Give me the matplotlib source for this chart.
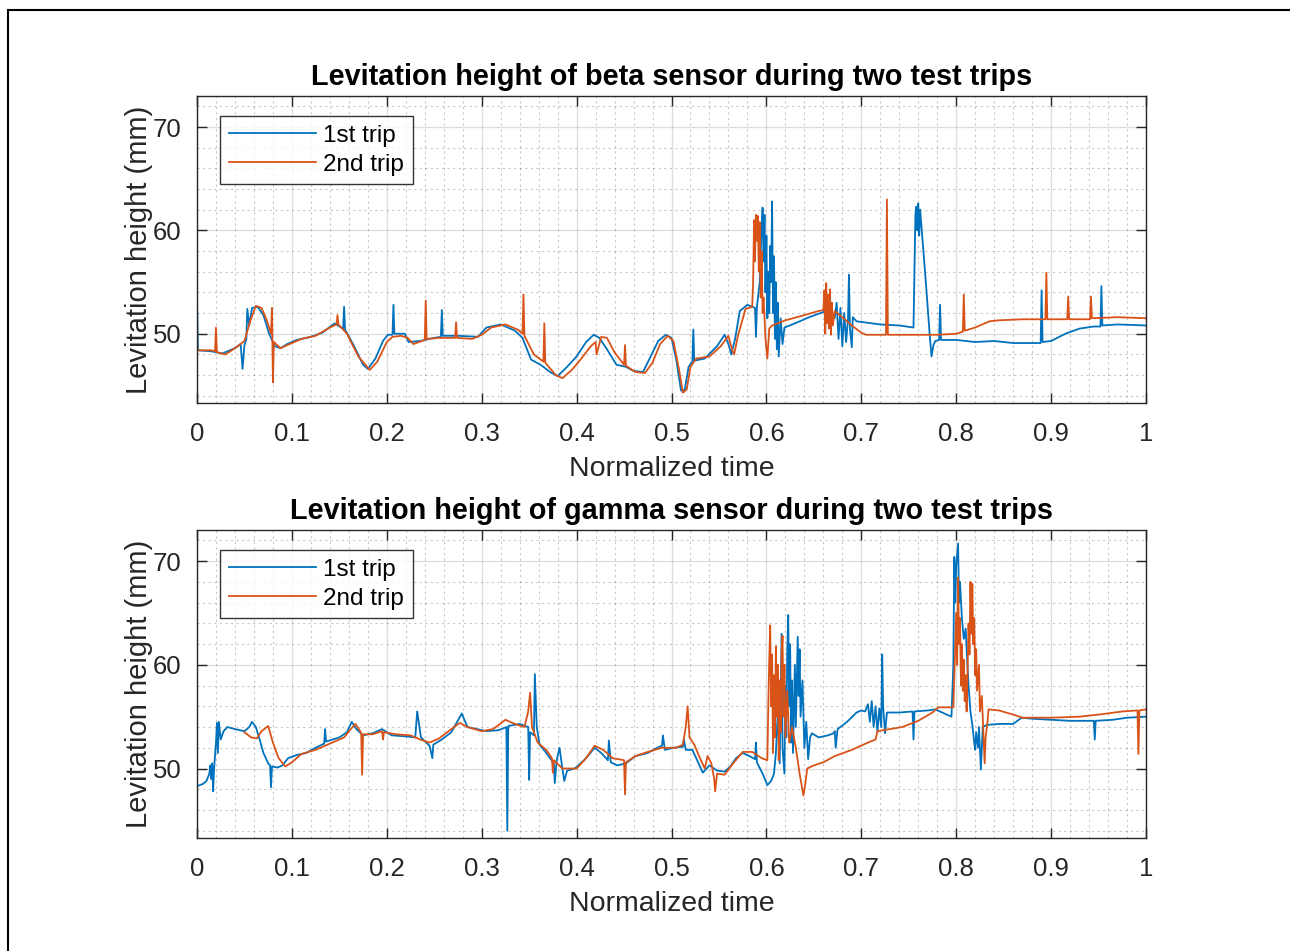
import numpy as np
import matplotlib
matplotlib.use('Agg')
import matplotlib.pyplot as plt
from matplotlib.ticker import MultipleLocator
import matplotlib.patches as mpatches

plt.rcParams['font.family'] = ['Liberation Sans', 'DejaVu Sans']

# ---- beta sensor, 1st trip ----
beta_trip1 = [
    (0.000, 53.2), (0.001, 48.4), (0.015, 48.3), (0.027, 48.1), (0.040, 48.6), (0.046, 49.0),
    (0.048, 46.6), (0.050, 48.9), (0.052, 49.5), (0.053, 52.4), (0.055, 50.8), (0.058, 52.5),
    (0.064, 52.6), (0.070, 51.8), (0.076, 50.0), (0.082, 48.8), (0.088, 48.6), (0.095, 49.0),
    (0.105, 49.4), (0.120, 49.7), (0.132, 50.1), (0.145, 51.0), (0.154, 50.5), (0.155, 52.6),
    (0.156, 50.4), (0.165, 48.9), (0.175, 47.0), (0.180, 46.6), (0.188, 47.6), (0.196, 49.3),
    (0.201, 49.9), (0.206, 49.9), (0.207, 52.8), (0.208, 50.0), (0.219, 50.0), (0.223, 49.2),
    (0.235, 49.3), (0.250, 49.6), (0.257, 49.7), (0.258, 52.3), (0.259, 49.8), (0.275, 49.8),
    (0.296, 49.7), (0.305, 50.6), (0.320, 50.9), (0.335, 50.3), (0.343, 49.6), (0.352, 47.5),
    (0.362, 47.0), (0.372, 46.3), (0.380, 45.9), (0.390, 46.8), (0.400, 47.8), (0.410, 49.2),
    (0.418, 49.9), (0.424, 49.6), (0.432, 48.5), (0.442, 47.0), (0.452, 46.8), (0.460, 46.4),
    (0.470, 46.3), (0.478, 47.8), (0.486, 49.3), (0.494, 49.9), (0.500, 49.6), (0.505, 47.5),
    (0.510, 44.5), (0.514, 44.6), (0.518, 46.8), (0.522, 47.3), (0.523, 50.4), (0.524, 47.4),
    (0.535, 47.6), (0.548, 48.8), (0.556, 49.9), (0.560, 49.0), (0.563, 48.0), (0.567, 49.5),
    (0.572, 52.2), (0.580, 52.8), (0.588, 52.5), (0.589, 49.7), (0.590, 52.6), (0.593, 55.0),
    (0.595, 60.5), (0.596, 62.2), (0.597, 57.0), (0.598, 61.5), (0.599, 54.0), (0.600, 59.5),
    (0.601, 51.5), (0.602, 56.0), (0.603, 52.0), (0.604, 58.5), (0.605, 55.0), (0.606, 62.8),
    (0.607, 52.0), (0.608, 57.5), (0.609, 49.5), (0.610, 55.0), (0.611, 48.5), (0.612, 53.0),
    (0.613, 47.8), (0.615, 51.5), (0.617, 49.0), (0.619, 50.6), (0.630, 51.0), (0.645, 51.6),
    (0.660, 52.1), (0.668, 52.3), (0.672, 51.5), (0.674, 53.0), (0.676, 49.5), (0.678, 52.5),
    (0.680, 48.8), (0.682, 52.0), (0.684, 49.2), (0.686, 51.5), (0.687, 55.7), (0.688, 50.5),
    (0.690, 48.7), (0.691, 51.6), (0.695, 51.2), (0.720, 50.9), (0.740, 50.8), (0.755, 50.6),
    (0.757, 61.5), (0.758, 62.3), (0.759, 60.0), (0.760, 62.6), (0.761, 59.5), (0.762, 62.0),
    (0.768, 55.0), (0.772, 50.0), (0.774, 47.8), (0.776, 48.9), (0.778, 49.3), (0.782, 49.4),
    (0.783, 52.8), (0.784, 49.4), (0.800, 49.4), (0.820, 49.2), (0.840, 49.3), (0.860, 49.1),
    (0.880, 49.1), (0.889, 49.1), (0.890, 54.2), (0.891, 49.2), (0.900, 49.3), (0.915, 50.0),
    (0.930, 50.5), (0.945, 50.7), (0.952, 50.7), (0.953, 54.6), (0.954, 50.8), (0.970, 50.9),
    (1.000, 50.8),
]

# ---- beta sensor, 2nd trip ----
beta_trip2 = [
    (0.000, 48.4), (0.015, 48.4), (0.019, 48.3), (0.020, 50.6), (0.021, 48.2), (0.030, 48.0),
    (0.040, 48.6), (0.050, 49.3), (0.056, 51.2), (0.062, 52.7), (0.068, 52.5), (0.074, 51.2),
    (0.078, 50.0), (0.079, 52.5), (0.080, 45.3), (0.081, 49.2), (0.088, 48.6), (0.095, 48.9),
    (0.110, 49.5), (0.125, 49.8), (0.140, 50.6), (0.147, 50.9), (0.148, 51.8), (0.149, 50.9),
    (0.158, 50.0), (0.170, 47.8), (0.182, 46.5), (0.190, 47.3), (0.200, 49.2), (0.206, 49.7),
    (0.215, 49.8), (0.222, 49.6), (0.228, 49.0), (0.240, 49.4), (0.241, 53.2), (0.242, 49.5),
    (0.255, 49.6), (0.272, 49.6), (0.273, 51.1), (0.274, 49.6), (0.290, 49.5), (0.300, 49.9),
    (0.310, 50.6), (0.325, 50.9), (0.338, 50.4), (0.343, 50.0), (0.344, 53.8), (0.345, 49.8),
    (0.355, 48.0), (0.365, 47.3), (0.366, 51.0), (0.367, 47.2), (0.378, 46.0), (0.385, 45.7),
    (0.395, 46.5), (0.405, 47.6), (0.415, 48.8), (0.420, 49.2), (0.421, 48.0), (0.426, 49.7),
    (0.432, 49.6), (0.440, 48.2), (0.450, 47.0), (0.451, 48.9), (0.452, 46.9), (0.462, 46.3),
    (0.472, 46.2), (0.480, 47.2), (0.488, 49.0), (0.496, 49.8), (0.502, 49.3), (0.508, 46.5),
    (0.512, 44.3), (0.516, 44.6), (0.520, 46.8), (0.526, 47.6), (0.540, 47.8), (0.552, 48.8),
    (0.560, 49.8), (0.564, 48.4), (0.566, 48.0), (0.570, 49.8), (0.578, 52.4), (0.585, 52.6),
    (0.586, 55.0), (0.587, 61.0), (0.588, 57.0), (0.589, 61.5), (0.590, 59.0), (0.591, 61.4),
    (0.592, 56.0), (0.593, 60.8), (0.594, 53.5), (0.595, 58.0), (0.596, 52.0), (0.597, 53.5),
    (0.599, 49.5), (0.601, 47.6), (0.603, 50.5), (0.606, 50.8), (0.620, 51.3), (0.640, 51.8),
    (0.655, 52.2), (0.660, 52.3), (0.661, 54.2), (0.662, 50.0), (0.663, 54.9), (0.664, 51.0),
    (0.665, 53.8), (0.666, 50.5), (0.667, 54.3), (0.668, 49.9), (0.669, 53.0), (0.670, 50.8),
    (0.672, 52.2), (0.680, 51.6), (0.690, 50.8), (0.700, 50.1), (0.705, 49.9), (0.726, 49.9),
    (0.727, 63.0), (0.728, 49.9), (0.760, 49.9), (0.780, 49.9), (0.800, 50.0), (0.807, 50.2),
    (0.808, 53.8), (0.809, 50.3), (0.820, 50.6), (0.835, 51.2), (0.845, 51.3), (0.870, 51.4),
    (0.894, 51.4), (0.895, 55.9), (0.896, 51.4), (0.917, 51.4), (0.918, 53.6), (0.919, 51.4),
    (0.941, 51.4), (0.942, 53.6), (0.943, 51.5), (0.970, 51.6), (1.000, 51.5),
]

# ---- gamma sensor, 1st trip ----
gamma_trip1 = [
    (0.000, 48.3), (0.006, 48.5), (0.010, 48.8), (0.013, 49.5), (0.014, 50.3), (0.015, 49.0),
    (0.016, 50.5), (0.017, 47.8), (0.018, 50.0), (0.020, 52.5), (0.021, 54.4), (0.022, 51.5),
    (0.023, 54.5), (0.025, 52.8), (0.028, 53.6), (0.032, 54.0), (0.040, 53.8), (0.050, 53.6),
    (0.055, 54.0), (0.058, 54.5), (0.062, 54.0), (0.066, 52.8), (0.070, 51.5), (0.075, 50.5),
    (0.077, 50.3), (0.078, 48.2), (0.079, 50.2), (0.085, 50.1), (0.090, 50.3), (0.096, 51.0),
    (0.105, 51.3), (0.115, 51.5), (0.125, 52.0), (0.134, 52.4), (0.135, 53.8), (0.136, 52.6),
    (0.150, 53.0), (0.158, 53.5), (0.163, 54.5), (0.168, 53.8), (0.175, 53.2), (0.185, 53.4),
    (0.195, 53.8), (0.205, 53.2), (0.220, 53.1), (0.230, 53.0), (0.232, 55.5), (0.236, 53.0),
    (0.245, 52.2), (0.248, 51.0), (0.249, 52.3), (0.258, 52.8), (0.268, 53.5), (0.279, 55.3),
    (0.285, 54.0), (0.295, 53.8), (0.305, 53.6), (0.318, 53.7), (0.326, 54.0), (0.327, 44.0),
    (0.328, 54.1), (0.340, 54.3), (0.349, 54.0), (0.350, 48.9), (0.351, 53.5), (0.355, 53.2),
    (0.356, 59.1), (0.358, 54.0), (0.361, 52.3), (0.368, 51.5), (0.376, 50.5), (0.377, 48.6),
    (0.379, 50.8), (0.382, 52.0), (0.385, 50.0), (0.387, 48.8), (0.390, 49.8), (0.398, 50.0),
    (0.408, 50.8), (0.419, 52.0), (0.426, 51.5), (0.433, 50.8), (0.434, 52.7), (0.436, 50.6),
    (0.443, 50.3), (0.452, 50.5), (0.462, 51.2), (0.475, 51.5), (0.485, 52.0), (0.490, 52.2),
    (0.491, 53.2), (0.493, 51.8), (0.502, 52.0), (0.512, 52.1), (0.513, 52.8), (0.515, 51.8),
    (0.522, 51.8), (0.527, 50.8), (0.533, 49.6), (0.540, 50.3), (0.548, 49.8), (0.556, 49.7),
    (0.562, 50.2), (0.568, 51.0), (0.575, 51.5), (0.582, 51.2), (0.588, 50.9), (0.589, 52.5),
    (0.590, 50.6), (0.596, 49.5), (0.601, 48.4), (0.605, 48.8), (0.608, 49.5), (0.610, 51.5),
    (0.612, 55.5), (0.614, 50.5), (0.616, 63.0), (0.617, 52.0), (0.619, 49.5), (0.620, 58.0),
    (0.621, 53.0), (0.622, 61.5), (0.623, 64.8), (0.624, 56.0), (0.625, 62.0), (0.626, 52.5),
    (0.627, 58.5), (0.628, 51.5), (0.630, 60.0), (0.631, 54.0), (0.633, 62.7), (0.634, 57.0),
    (0.635, 61.5), (0.636, 55.0), (0.638, 58.5), (0.640, 52.0), (0.642, 54.5), (0.644, 50.9),
    (0.646, 53.0), (0.648, 53.4), (0.655, 53.0), (0.665, 53.2), (0.671, 53.4), (0.672, 53.6),
    (0.673, 52.0), (0.675, 53.8), (0.685, 54.5), (0.695, 55.4), (0.700, 55.6), (0.704, 55.5),
    (0.707, 56.2), (0.709, 54.5), (0.711, 56.5), (0.713, 54.0), (0.715, 56.0), (0.717, 53.5),
    (0.719, 55.8), (0.721, 54.0), (0.722, 61.0), (0.723, 56.0), (0.725, 53.4), (0.727, 55.4),
    (0.740, 55.4), (0.754, 55.5), (0.755, 52.8), (0.756, 55.5), (0.770, 55.6), (0.778, 55.7),
    (0.790, 55.2), (0.795, 55.0), (0.797, 60.0), (0.798, 70.4), (0.799, 66.0), (0.800, 69.5),
    (0.802, 71.7), (0.803, 66.0), (0.804, 68.0), (0.806, 64.5), (0.808, 62.5), (0.810, 63.5),
    (0.811, 61.5), (0.813, 58.0), (0.815, 55.5), (0.817, 54.2), (0.819, 52.5), (0.820, 51.8),
    (0.821, 53.5), (0.823, 52.0), (0.824, 54.0), (0.826, 49.9), (0.828, 54.0), (0.832, 54.2),
    (0.845, 54.3), (0.860, 54.3), (0.869, 54.9), (0.880, 54.8), (0.900, 54.7), (0.920, 54.6),
    (0.945, 54.6), (0.946, 52.8), (0.947, 54.6), (0.965, 54.7), (0.980, 54.9), (1.000, 55.0),
]

# ---- gamma sensor, 2nd trip ----
gamma_trip2 = [
    (0.050, 53.5), (0.057, 53.0), (0.063, 52.9), (0.068, 53.6), (0.075, 54.1), (0.080, 52.5),
    (0.086, 51.0), (0.093, 50.2), (0.100, 50.6), (0.110, 51.4), (0.125, 51.8), (0.140, 52.4),
    (0.155, 53.0), (0.162, 53.8), (0.167, 54.3), (0.172, 53.6), (0.173, 53.4), (0.174, 49.4),
    (0.175, 53.3), (0.185, 53.3), (0.195, 53.6), (0.196, 52.8), (0.197, 53.5), (0.210, 53.3),
    (0.225, 53.2), (0.235, 52.8), (0.245, 52.5), (0.255, 52.9), (0.268, 53.8), (0.277, 54.4),
    (0.285, 54.0), (0.300, 53.6), (0.312, 53.8), (0.325, 54.7), (0.335, 54.3), (0.345, 54.0),
    (0.349, 55.5), (0.351, 57.3), (0.353, 54.0), (0.359, 52.5), (0.368, 51.8), (0.374, 51.0),
    (0.375, 49.6), (0.376, 50.8), (0.385, 50.0), (0.400, 50.0), (0.410, 51.0), (0.419, 52.2),
    (0.428, 51.8), (0.438, 51.0), (0.450, 50.8), (0.451, 47.5), (0.452, 50.6), (0.462, 51.2),
    (0.475, 51.6), (0.490, 52.0), (0.505, 52.0), (0.512, 52.3), (0.515, 54.0), (0.517, 56.0),
    (0.519, 53.0), (0.524, 52.3), (0.530, 51.0), (0.535, 50.0), (0.538, 51.2), (0.542, 50.5),
    (0.545, 49.0), (0.546, 47.8), (0.548, 49.5), (0.556, 49.4), (0.565, 50.5), (0.575, 51.6),
    (0.585, 51.6), (0.595, 51.0), (0.601, 50.8), (0.602, 56.0), (0.603, 60.5), (0.604, 63.8),
    (0.605, 56.0), (0.606, 61.0), (0.607, 51.5), (0.608, 59.0), (0.609, 53.0), (0.610, 61.8),
    (0.611, 55.0), (0.612, 60.0), (0.613, 50.8), (0.614, 58.5), (0.615, 53.5), (0.616, 61.0),
    (0.617, 62.8), (0.618, 55.0), (0.619, 60.0), (0.620, 53.0), (0.622, 57.5), (0.624, 52.5),
    (0.627, 54.0), (0.631, 52.0), (0.635, 49.5), (0.639, 47.4), (0.641, 48.5), (0.643, 50.0),
    (0.650, 50.3), (0.660, 50.6), (0.672, 51.2), (0.690, 51.8), (0.707, 52.5), (0.715, 52.8),
    (0.717, 53.6), (0.730, 53.8), (0.743, 54.0), (0.760, 54.6), (0.775, 55.4), (0.781, 55.9),
    (0.797, 55.9), (0.799, 62.0), (0.800, 65.0), (0.801, 60.0), (0.802, 68.4), (0.803, 62.0),
    (0.804, 64.5), (0.805, 58.0), (0.806, 62.0), (0.807, 57.5), (0.808, 60.5), (0.809, 56.5),
    (0.810, 59.0), (0.811, 55.5), (0.812, 60.0), (0.813, 64.0), (0.814, 61.0), (0.815, 68.0),
    (0.816, 63.0), (0.817, 67.8), (0.818, 62.0), (0.819, 64.5), (0.820, 59.0), (0.821, 61.5),
    (0.822, 57.5), (0.824, 60.0), (0.825, 55.5), (0.827, 57.0), (0.829, 52.5), (0.830, 50.5),
    (0.831, 53.0), (0.833, 54.5), (0.834, 55.7), (0.845, 55.6), (0.860, 55.2), (0.870, 54.9),
    (0.900, 54.9), (0.930, 55.0), (0.950, 55.2), (0.975, 55.5), (0.991, 55.6), (0.992, 51.4),
    (0.993, 55.6), (1.000, 55.7),
]

titles = ["Levitation height of beta sensor during two test trips",
          "Levitation height of gamma sensor during two test trips"]
labels = ["1st trip", "2nd trip"]
blue = '#0072BD'
orange = '#D95319'
axcol = '#262626'

fig = plt.figure(figsize=(12.9, 9.51), dpi=100)
# outer frame like the exported figure
fig.patches.append(mpatches.Rectangle((8/1290, -0.1), 1.2, 1.1 - 10/951,
                                      transform=fig.transFigure, fill=False,
                                      edgecolor='black', linewidth=1.5))

ax_top = fig.add_axes([197/1290, 1 - 403/951, 949/1290, 307/951])
ax_bot = fig.add_axes([197/1290, 1 - 838/951, 949/1290, 308/951])

for ax, title, s1, s2 in [(ax_top, titles[0], beta_trip1, beta_trip2),
                          (ax_bot, titles[1], gamma_trip1, gamma_trip2)]:
    t1, h1 = zip(*s1)
    t2, h2 = zip(*s2)
    ax.plot(t1, h1, color=blue, linewidth=1.3, label=labels[0])
    ax.plot(t2, h2, color=orange, linewidth=1.3, label=labels[1])
    ax.set_xlim(0, 1)
    ax.set_ylim(43.3, 73)
    ax.set_xticks(np.arange(0, 1.01, 0.1))
    ax.set_xticklabels(['0', '0.1', '0.2', '0.3', '0.4', '0.5', '0.6', '0.7', '0.8', '0.9', '1'])
    ax.set_yticks([50, 60, 70])
    ax.xaxis.set_minor_locator(MultipleLocator(0.02))
    ax.yaxis.set_minor_locator(MultipleLocator(2))
    ax.grid(True, which='major', color='#262626', alpha=0.15, linewidth=1.0)
    ax.grid(True, which='minor', color='#262626', alpha=0.25, linewidth=0.8, linestyle=(0, (2, 3)))
    ax.set_axisbelow(True)
    ax.tick_params(which='major', direction='in', length=7, width=1, colors=axcol,
                   top=True, right=True, labelsize=18.5)
    ax.tick_params(axis='x', which='major', pad=14)
    ax.tick_params(axis='y', which='major', pad=11)
    ax.tick_params(which='minor', length=0)
    for sp in ax.spines.values():
        sp.set_color(axcol)
        sp.set_linewidth(1.0)
    ax.set_xlabel("Normalized time", fontsize=20.5, color=axcol, labelpad=7)
    ax.set_ylabel("Levitation height (mm)", fontsize=21, color=axcol, labelpad=0)
    ax.set_title(title, fontsize=20.8, fontweight='bold', color='black', pad=8)
    leg = ax.legend(loc='upper left', bbox_to_anchor=(23/949, 1 - 20/307), borderaxespad=0,
                    fontsize=17.5, frameon=True, fancybox=False, handlelength=3.6,
                    handletextpad=0.3, borderpad=0.35, labelspacing=0.3)
    leg.get_frame().set_edgecolor('black')
    leg.get_frame().set_linewidth(1.0)

plt.savefig("out.png", dpi=100)
